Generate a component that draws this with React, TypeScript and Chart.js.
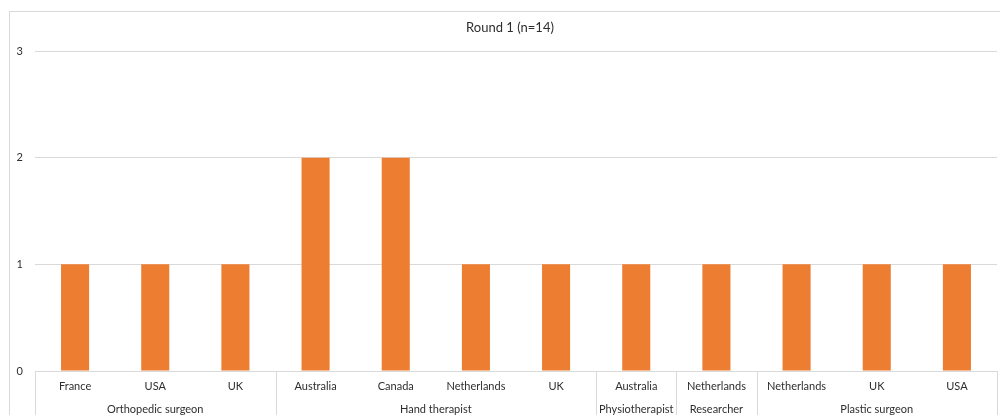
import React, { useEffect, useRef } from "react";
import { Chart, registerables } from "chart.js";

Chart.register(...registerables);

// Respondents per profession and country
const countries = [
  "France", "USA", "UK",
  "Australia", "Canada", "Netherlands", "UK",
  "Australia",
  "Netherlands",
  "Netherlands", "UK", "USA",
];
const professions = [
  "Orthopedic surgeon", "Orthopedic surgeon", "Orthopedic surgeon",
  "Hand therapist", "Hand therapist", "Hand therapist", "Hand therapist",
  "Physiotherapist",
  "Researcher",
  "Plastic surgeon", "Plastic surgeon", "Plastic surgeon",
];
const counts = [1, 1, 1, 2, 2, 1, 1, 1, 1, 1, 1, 1];
const yMax = 3;
const titleText = "Round 1 (n=14)";

const FONT = "Lato, 'Open Sans', sans-serif";
const TEXT = "#2e2e2e";
const LINE = "#d9d9d9";
const BAR = "#ED7D31";

// Frame, title and the second (profession) level of the category axis
const groupAxisPlugin = {
  id: "groupAxis",
  beforeDraw(chart: any) {
    const { ctx, width, height } = chart;
    ctx.save();
    ctx.fillStyle = "#ffffff";
    ctx.fillRect(0, 0, width, height);
    ctx.strokeStyle = LINE;
    ctx.lineWidth = 1;
    ctx.strokeRect(9.5, 11.5, width + 10, height + 10);
    ctx.restore();
  },
  afterDraw(chart: any) {
    const { ctx, chartArea, height } = chart;
    const xs = chart.scales.x;
    ctx.save();

    // title
    ctx.fillStyle = TEXT;
    ctx.font = `13px ${FONT}`;
    ctx.textAlign = "center";
    ctx.textBaseline = "middle";
    ctx.fillText(titleText, 510, 28);

    // runs of equal profession
    const runs: { name: string; start: number; end: number }[] = [];
    professions.forEach((p, i) => {
      const last = runs[runs.length - 1];
      if (last && last.name === p) last.end = i;
      else runs.push({ name: p, start: i, end: i });
    });
    const edge = (i: number) => {
      if (i <= 0) return chartArea.left;
      if (i >= professions.length) return chartArea.right;
      return (xs.getPixelForValue(i - 1) + xs.getPixelForValue(i)) / 2;
    };

    ctx.strokeStyle = LINE;
    ctx.lineWidth = 1;
    const bounds = new Set<number>();
    runs.forEach((r) => {
      bounds.add(r.start);
      bounds.add(r.end + 1);
    });
    bounds.forEach((b) => {
      const x = Math.round(edge(b)) + 0.5;
      ctx.beginPath();
      ctx.moveTo(x, chartArea.bottom);
      ctx.lineTo(x, height);
      ctx.stroke();
    });

    ctx.fillStyle = TEXT;
    ctx.font = `11px ${FONT}`;
    runs.forEach((r) => {
      const cx = (edge(r.start) + edge(r.end + 1)) / 2;
      ctx.fillText(r.name, cx, 409);
    });
    ctx.restore();
  },
};

export default function App() {
  const ref = useRef<HTMLCanvasElement | null>(null);

  useEffect(() => {
    if (!ref.current) return;
    const chart = new Chart(ref.current, {
      type: "bar",
      data: {
        labels: countries,
        datasets: [
          {
            data: counts,
            backgroundColor: BAR,
            borderWidth: 0,
            barPercentage: 0.35,
            categoryPercentage: 1,
          },
        ],
      },
      options: {
        responsive: false,
        animation: false,
        layout: { padding: { left: 0, right: 3, top: 51, bottom: 0 } },
        plugins: {
          legend: { display: false },
          tooltip: { enabled: false },
          title: { display: false },
        },
        scales: {
          x: {
            grid: { display: false, drawTicks: false },
            border: { display: true, color: LINE },
            ticks: {
              color: TEXT,
              font: { family: FONT, size: 11 },
              padding: 9,
              maxRotation: 0,
              autoSkip: false,
            },
            afterFit(s: any) {
              s.height = 44;
            },
          },
          y: {
            min: 0,
            max: yMax,
            grid: { color: LINE, drawTicks: false },
            border: { display: false },
            ticks: {
              stepSize: 1,
              color: TEXT,
              font: { family: FONT, size: 11 },
              padding: 12,
            },
            afterFit(s: any) {
              s.width = 35;
            },
          },
        },
      },
      plugins: [groupAxisPlugin],
    });
    return () => chart.destroy();
  }, []);

  return (
    <div style={{ position: "absolute", left: 0, top: 0, width: 1000, height: 415 }}>
      <canvas ref={ref} width={1000} height={415} style={{ width: 1000, height: 415 }} />
    </div>
  );
}
